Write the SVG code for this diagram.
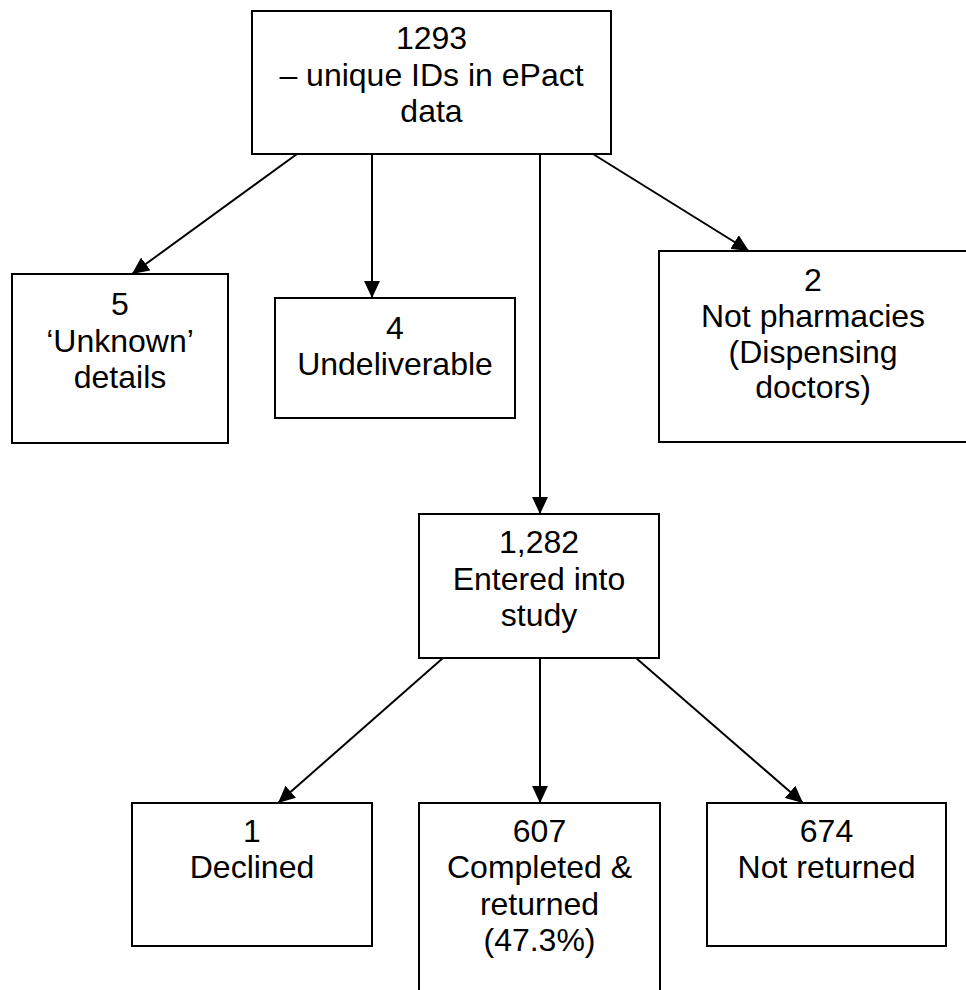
<svg xmlns="http://www.w3.org/2000/svg" width="966" height="990" viewBox="0 0 966 990">
<style>
.box{fill:#fff;stroke:#000;stroke-width:2}
.t{font-family:"Liberation Sans",Arial,sans-serif;font-size:32px;fill:#000;text-anchor:middle}
.c{stroke:#000;stroke-width:2;fill:none;marker-end:url(#ah)}
</style>
<defs>
<marker id="ah" markerUnits="userSpaceOnUse" markerWidth="18" markerHeight="16" refX="17" refY="8" orient="auto">
<path d="M0,0 L17,8 L0,16 Z" fill="#000"/>
</marker>
</defs>
<rect width="966" height="990" fill="#fff"/>
<g id="connectors">
<line class="c" x1="297" y1="154" x2="132" y2="274"/>
<line class="c" x1="372" y1="154" x2="372" y2="298"/>
<line class="c" x1="540" y1="154" x2="540" y2="514"/>
<line class="c" x1="593" y1="154" x2="749" y2="251"/>
<line class="c" x1="443" y1="658" x2="278" y2="803"/>
<line class="c" x1="540" y1="658" x2="540" y2="803"/>
<line class="c" x1="636" y1="658" x2="803" y2="803"/>
</g>
<g id="n1293">
<rect class="box" x="252" y="11" width="359" height="143"/>
<text class="t" x="431.5" y="49">1293</text>
<text class="t" x="431.5" y="86">– unique IDs in ePact</text>
<text class="t" x="431.5" y="122">data</text>
</g>
<g id="n5">
<rect class="box" x="12" y="274" width="216" height="169"/>
<text class="t" x="120" y="315">5</text>
<text class="t" x="120" y="352">‘Unknown’</text>
<text class="t" x="120" y="388">details</text>
</g>
<g id="n4">
<rect class="box" x="275" y="298" width="240" height="120"/>
<text class="t" x="395" y="339">4</text>
<text class="t" x="395" y="375">Undeliverable</text>
</g>
<g id="n2">
<rect class="box" x="659" y="251" width="310" height="191"/>
<text class="t" x="813" y="291">2</text>
<text class="t" x="813" y="327">Not pharmacies</text>
<text class="t" x="813" y="363">(Dispensing</text>
<text class="t" x="813" y="398">doctors)</text>
</g>
<g id="n1282">
<rect class="box" x="419" y="514" width="240" height="144"/>
<text class="t" x="539" y="553">1,282</text>
<text class="t" x="539" y="590">Entered into</text>
<text class="t" x="539" y="626">study</text>
</g>
<g id="n1">
<rect class="box" x="132" y="803" width="240" height="143"/>
<text class="t" x="252" y="842">1</text>
<text class="t" x="252" y="878">Declined</text>
</g>
<g id="n607">
<rect class="box" x="419" y="803" width="241" height="200"/>
<text class="t" x="539.5" y="842">607</text>
<text class="t" x="539.5" y="878">Completed &amp;</text>
<text class="t" x="539.5" y="915">returned</text>
<text class="t" x="539.5" y="951">(47.3%)</text>
</g>
<g id="n674">
<rect class="box" x="707" y="803" width="239" height="143"/>
<text class="t" x="826.5" y="842">674</text>
<text class="t" x="826.5" y="878">Not returned</text>
</g>
</svg>
